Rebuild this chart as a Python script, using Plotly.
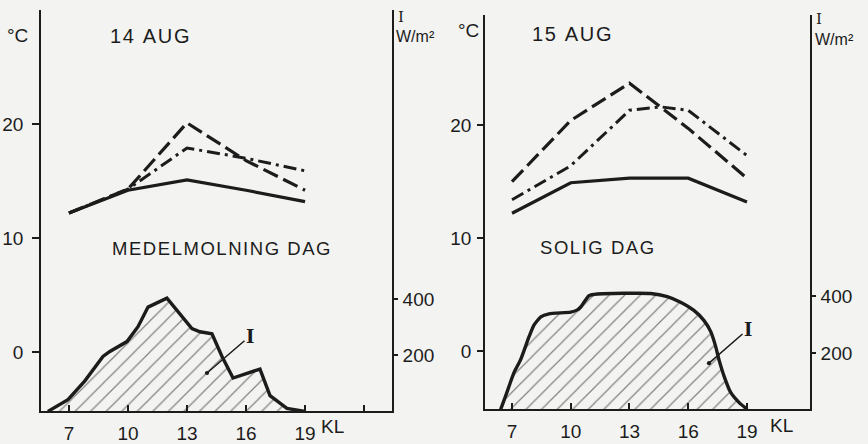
import plotly.graph_objects as go

# ---------------- data ----------------
hours = [7, 10, 13, 16, 19]

# 14 AUG (medelmolning dag) temperatures, deg C
aug14_solid = [12.2, 14.2, 15.1, 14.2, 13.2]
aug14_dash = [12.2, 14.3, 20.1, 16.8, 14.2]
aug14_dashdot = [12.2, 14.3, 17.9, 17.0, 15.9]

# 15 AUG (solig dag) temperatures, deg C
aug15_solid = [12.2, 14.9, 15.3, 15.3, 13.2]
aug15_dash = [15.0, 20.4, 23.7, 19.7, 15.3]
aug15_dashdot_hours = [7, 10, 13, 14.6, 16, 19]
aug15_dashdot = [13.4, 16.4, 21.3, 21.6, 21.3, 17.3]

# irradiance I, W/m2
aug14_I_hours = [5.93, 6.95, 7.81, 8.73, 9.08, 9.95, 10.51, 11.02, 11.98, 13.25,
                 13.66, 14.27, 14.78, 15.34, 16.71, 17.22, 18.08, 19.0]
aug14_I = [0, 42, 109, 196, 214, 249, 302, 372, 404, 295,
           284, 277, 196, 119, 151, 56, 11, 0]

aug15_I_hours = [6.42, 6.68, 7.10, 7.44, 7.87, 8.12, 8.47, 8.89, 10.0, 10.34, 10.51,
                 10.93, 11.36, 14.08, 14.93, 15.61, 16.29, 16.80, 17.15, 17.40,
                 17.57, 17.83, 18.17, 18.59, 19.02]
aug15_I = [0, 49, 130, 176, 257, 298, 327, 338, 344, 352, 362,
           402, 408, 410, 399, 379, 350, 315, 275, 223,
           176, 118, 60, 25, 0]

x_ticks = [7, 10, 13, 16, 19]
x_ticklabels = ["7", "10", "13", "16", "19"]
x_extra_tick_left = [22]
t_ticks = [0, 10, 20]
i_ticks = [200, 400]

# ---------------- styling ----------------
W, H = 868, 444
INK = "#1c1c1c"
BG = "#f3f3f1"
FONT = "Liberation Sans, Arial, sans-serif"
DASH = "16px,6px"
DASHDOT = "13px,5px,3px,5px"


def px(x):
    return x / W


def py(y):
    return 1 - y / H


fig = go.Figure()


def temp_traces(xa, ya, xs, solid, dash, xs_dd, dashdot):
    fig.add_trace(go.Scatter(x=xs, y=solid, mode="lines", xaxis=xa, yaxis=ya,
                             line=dict(color=INK, width=3.2), showlegend=False))
    fig.add_trace(go.Scatter(x=xs, y=dash, mode="lines", xaxis=xa, yaxis=ya,
                             line=dict(color=INK, width=3.2, dash=DASH), showlegend=False))
    fig.add_trace(go.Scatter(x=xs_dd, y=dashdot, mode="lines", xaxis=xa, yaxis=ya,
                             line=dict(color=INK, width=3.0, dash=DASHDOT), showlegend=False))


def irr_trace(xa, ya, xs, ys, shape):
    fig.add_trace(go.Scatter(
        x=xs, y=ys, mode="lines", xaxis=xa, yaxis=ya, fill="tozeroy",
        fillcolor="rgba(0,0,0,0)",
        fillpattern=dict(shape="/", size=11, solidity=0.11, fgcolor="#111111",
                         bgcolor="rgba(0,0,0,0)"),
        line=dict(color=INK, width=3.4, shape=shape, smoothing=0.5),
        showlegend=False))


irr_trace("x", "y2", aug14_I_hours, aug14_I, "linear")
temp_traces("x", "y", hours, aug14_solid, aug14_dash, hours, aug14_dashdot)
irr_trace("x2", "y4", aug15_I_hours, aug15_I, "spline")
temp_traces("x2", "y3", hours, aug15_solid, aug15_dash, aug15_dashdot_hours, aug15_dashdot)

axis_common = dict(showline=True, linecolor=INK, linewidth=1.6, showgrid=False,
                   zeroline=False, tickcolor=INK, tickwidth=1.5,
                   tickfont=dict(family=FONT, size=19, color=INK))

# panel geometry (pixels)
L_left, L_right, L_top, L_bot = 41, 392, 10, 418
R_left, R_right, R_top, R_bot = 485, 810, 15, 416

fig.update_layout(
    width=W, height=H, margin=dict(l=0, r=0, t=0, b=0),
    paper_bgcolor=BG, plot_bgcolor=BG, showlegend=False,
    xaxis=dict(domain=[px(L_left), px(L_right)], range=[5.58, 23.42], anchor="y",
               tickvals=x_ticks, ticktext=x_ticklabels,
               ticks="inside", ticklen=7, ticklabelstandoff=4,
               minor=dict(tickvals=x_extra_tick_left, ticks="inside", ticklen=7,
                          tickwidth=1.5, tickcolor=INK, showgrid=False),
               **axis_common),
    yaxis=dict(domain=[py(L_bot), py(L_top)], range=[-5.17, 30.0], anchor="x",
               tickvals=t_ticks, ticks="outside", ticklen=7, ticklabelstandoff=5,
               **axis_common),
    yaxis2=dict(overlaying="y", side="right", anchor="x", range=[0, 1432],
                tickvals=i_ticks, ticks="outside", ticklen=4, ticklabelstandoff=1,
                **axis_common),
    xaxis2=dict(domain=[px(R_left), px(R_right)], range=[5.62, 22.22], anchor="y3",
                tickvals=x_ticks, ticktext=x_ticklabels,
                ticks="inside", ticklen=7, ticklabelstandoff=4, **axis_common),
    yaxis3=dict(domain=[py(R_bot), py(R_top)], range=[-5.13, 29.74], anchor="x2",
                tickvals=t_ticks, ticks="outside", ticklen=6, ticklabelstandoff=2,
                **axis_common),
    yaxis4=dict(overlaying="y3", side="right", anchor="x2", range=[0, 1395],
                tickvals=i_ticks, ticks="outside", ticklen=4, ticklabelstandoff=1,
                **axis_common),
)


def note(text, x, y, size=18, xanchor="center", family=FONT, **kw):
    fig.add_annotation(text=text, x=px(x), y=py(y), xref="paper", yref="paper",
                       showarrow=False, xanchor=xanchor, yanchor="middle",
                       font=dict(family=family, size=size, color=INK), borderpad=0,
                       **kw)


def spaced(text, n):
    # widen the lettering like the original stencil text using hair spaces
    return ("\u200a" * n).join(text)


# titles
note(spaced("14 AUG", 1), 150, 37, size=20)
note(spaced("15 AUG", 1), 572, 35, size=20)
note(spaced("MEDELMOLNING DAG", 1), 221, 252, size=18.5)
note(spaced("SOLIG DAG", 1), 597, 251, size=18.5)

# unit labels
note("°C", 17, 36, size=19)
note("°C", 468, 31, size=19)
note("I", 397, 17, size=15, xanchor="left", family="DejaVu Serif")
note("W/m²", 395, 37, size=16, xanchor="left")
note("I", 815, 19, size=15, xanchor="left", family="DejaVu Serif")
note("W/m²", 814, 40, size=16, xanchor="left")

# KL labels
note("KL", 332, 433, size=19)
note("KL", 781, 432, size=19)

# I leader labels
for (hx, hy, tx, ty) in [(207, 379, 250, 342), (709, 369, 748, 335)]:
    fig.add_annotation(text="<b>I</b>", x=px(hx), y=py(hy), xref="paper", yref="paper",
                       ax=tx - hx, ay=ty - hy, axref="pixel", ayref="pixel",
                       showarrow=True, arrowhead=6, arrowsize=0.7, arrowwidth=1.5,
                       arrowcolor=INK, startstandoff=0,
                       font=dict(family="DejaVu Serif", size=18, color=INK))

fig.write_html("out.html")
